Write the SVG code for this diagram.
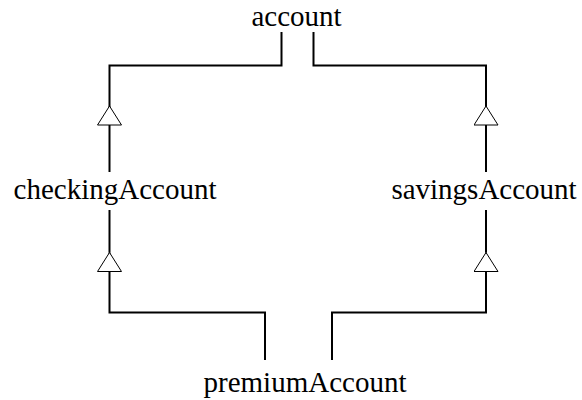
<svg xmlns="http://www.w3.org/2000/svg" width="582" height="400" viewBox="0 0 582 400">
  <style>
    .label { font-family: "Liberation Serif", "Times New Roman", serif; font-size: 29px; fill: #000; text-anchor: middle; }
    .conn { fill: none; stroke: #000; stroke-width: 2; }
  </style>
  <defs>
    <marker id="gen" viewBox="0 0 21 25" refX="19.5" refY="12.5" markerWidth="21" markerHeight="25" markerUnits="userSpaceOnUse" orient="auto">
      <path d="M0.5,0.5 L19.5,12.5 L0.5,24.5 Z" fill="#fff" stroke="#000" stroke-width="1"/>
    </marker>
  </defs>
  <rect width="582" height="400" fill="#fff"/>
  <g id="connectors">
    <path class="conn" d="M109.5,172 V106" marker-end="url(#gen)"/>
    <path class="conn" d="M109.5,106 V65.5 H281.5 V32"/>
    <path class="conn" d="M486,172 V106" marker-end="url(#gen)"/>
    <path class="conn" d="M486,106 V65.5 H313.5 V32"/>
    <path class="conn" d="M265,360 V312.5 H109.5 V252.5" marker-end="url(#gen)"/>
    <path class="conn" d="M109.5,252.5 V210"/>
    <path class="conn" d="M332,360 V312.5 H486 V252.5" marker-end="url(#gen)"/>
    <path class="conn" d="M486,252.5 V210"/>
  </g>
  <g id="account"><text class="label" x="296.5" y="26">account</text></g>
  <g id="checkingAccount"><text class="label" x="115" y="199">checkingAccount</text></g>
  <g id="savingsAccount"><text class="label" x="484" y="199">savingsAccount</text></g>
  <g id="premiumAccount"><text class="label" x="305" y="392">premiumAccount</text></g>
</svg>
